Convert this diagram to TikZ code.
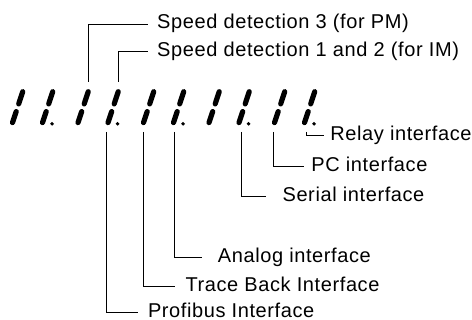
\documentclass[tikz,border=0pt]{standalone}
\usepackage{fontspec}
\setmainfont{Liberation Sans}
\newfontfamily\lblfont{Liberation Sans}[LetterSpace=3]
\usetikzlibrary{calc}
\tikzset{
  seg/.style={draw=black,line width=5.2pt,line cap=round},
  lead/.style={draw=black,line width=0.8pt},
  lbl/.style={anchor=west,inner sep=0pt,font=\lblfont\fontsize{20}{24}\selectfont,text height=10.4pt,text depth=0.4pt},
}
\begin{document}
\begin{tikzpicture}[x=1pt,y=-1pt]
\useasboundingbox (0,0) rectangle (472,320);
\foreach \n/\x/\dotq in {1/17.5/0,2/47.5/1,3/83/0,4/113/1,5/148.5/0,6/178.5/1,7/214/0,8/244/1,9/279.5/0,10/309.5/1} {
  \coordinate (d\n) at (\x,107.5);
  \draw[seg] ($(d\n)+(1.2,-3.6)$) -- ($(d\n)+(5.2,-15.8)$);
  \draw[seg] ($(d\n)+(-1.3,4.1)$) -- ($(d\n)+(-5,15.1)$);
  \ifnum\dotq=1 \fill ($(d\n)+(4.6,16.3)$) circle (1.9pt); \fi
}
\coordinate (t3) at ($(d3)+(5,-25.5)$);
\coordinate (t4) at ($(d4)+(5,-25.5)$);
\foreach \n/\x in {4/106,5/143,6/174.3,8/241,9/273.3,10/306}
  \coordinate (b\n) at (\x,132);
\node[lbl] (sp3) at (157,24) {Speed detection 3 (for PM)};
\node[lbl] (sp12) at (157,51.7) {Speed detection 1 and 2 (for IM)};
\node[lbl] (rel) at (330.2,135.5) {Relay interface};
\node[lbl] (pci) at (311.2,166.7) {PC interface};
\node[lbl] (ser) at (282.4,196.7) {Serial interface};
\node[lbl] (ana) at (217.7,257.7) {Analog interface};
\node[lbl] (trb) at (185.3,286.7) {Trace Back Interface};
\node[lbl] (pro) at (147.8,312.3) {Profibus Interface};
\draw[lead,shorten >=9pt] (t3) |- (sp3.west);
\draw[lead,shorten >=9pt] (t4) |- (sp12.west);
\draw[lead,shorten >=6.2pt] (b10) |- (rel.west);
\draw[lead,shorten >=7.2pt] (b9) |- (pci.west);
\draw[lead,shorten >=16.4pt] (b8) |- (ser.west);
\draw[lead,shorten >=16pt] (b6) |- (ana.west);
\draw[lead,shorten >=10.3pt] (b5) |- (trb.west);
\draw[lead,shorten >=9.8pt] (b4) |- (pro.west);
\end{tikzpicture}
\end{document}
